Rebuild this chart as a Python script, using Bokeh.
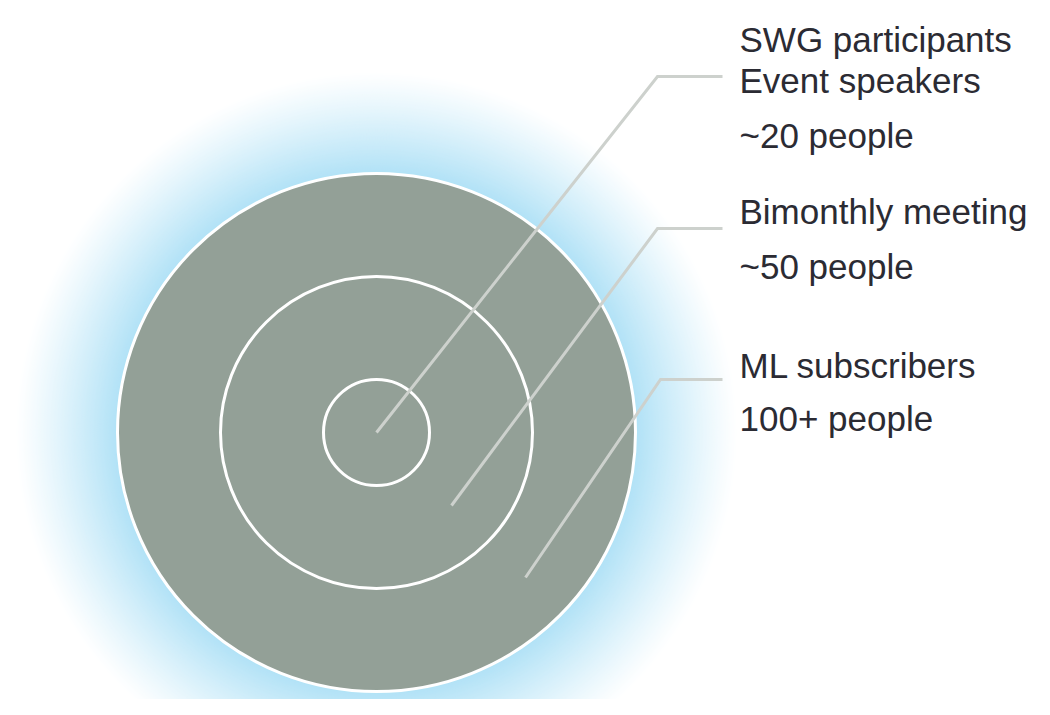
from bokeh.plotting import figure
from bokeh.models import Range1d, ColumnDataSource
from bokeh.core.properties import value
from bokeh.embed import file_html
from bokeh.resources import INLINE

# ---- data ----
tier_titles = [["SWG participants", "Event speakers"],
               ["Bimonthly meeting"],
               ["ML subscribers"]]
tier_counts = ["~20 people", "~50 people", "100+ people"]

# ---- layout (picture pixel coordinates) ----
W, H = 1034, 699
cx, cy = 376, 432
ring_radii = [53, 156, 259]          # inner, middle, outer
glow_radius = 362
# leader lines: start point inside ring, elbow, end
leader_start = [(376, 432), (451, 505), (525, 577)]
leader_elbow_x = [657, 657, 660]
leader_y = [76, 228, 379]
leader_end_x = 722
text_x = 739
title_baselines = [[39, 80], [211], [365]]
count_baselines = [135, 266, 418]

FONT = "Liberation Sans"
TEXT_COLOR = "#2b2b33"
GRAY = "#93a097"
BLUE = (175, 225, 246)
LINE_COLOR = "#cdd1cd"

p = figure(width=W, height=H, output_backend="svg", toolbar_location=None,
           x_range=Range1d(0, W), y_range=Range1d(H, 0),
           min_border=0, background_fill_color="white",
           border_fill_color="white")
p.axis.visible = False
p.grid.visible = False
p.outline_line_color = None

# glow: concentric discs from outside in, white -> light blue
n = 110
gx, gy, gr, gc = [], [], [], []
for i in range(n + 1):
    t = i / n
    r = glow_radius - (glow_radius - ring_radii[2] + 2) * t
    k = t ** 1.15
    col = tuple(int(round(255 + (b - 255) * k)) for b in BLUE)
    gx.append(cx); gy.append(cy); gr.append(r)
    gc.append("#%02x%02x%02x" % col)
p.circle(x="x", y="y", radius="r", fill_color="c", line_color=None,
         source=ColumnDataSource(dict(x=gx, y=gy, r=gr, c=gc)))

# outer filled ring
p.circle(x=[cx], y=[cy], radius=[ring_radii[2]], fill_color=GRAY,
         line_color="white", line_width=3)
# middle and inner rings
p.circle(x=[cx, cx], y=[cy, cy], radius=ring_radii[:2], fill_color=None,
         line_color="white", line_width=3)

# leader lines
xs, ys = [], []
for (sx, sy), ex, ly in zip(leader_start, leader_elbow_x, leader_y):
    xs.append([sx, ex, leader_end_x])
    ys.append([sy, ly, ly])
p.multi_line(xs=xs, ys=ys, line_color=LINE_COLOR, line_width=3,
             line_join="miter")

# texts
tx, ty, tt = [], [], []
for titles, tbs, cnt, cb in zip(tier_titles, title_baselines, tier_counts,
                                count_baselines):
    for s, b in zip(titles, tbs):
        tx.append(text_x); ty.append(b); tt.append(s)
    tx.append(text_x); ty.append(cb); tt.append(cnt)
p.text(x="x", y="y", text="t", source=ColumnDataSource(dict(x=tx, y=ty, t=tt)),
       text_font=value(FONT), text_font_size="35px", text_color=TEXT_COLOR,
       text_baseline="alphabetic", text_align="left")

open("out.html", "w").write(file_html(p, INLINE))
